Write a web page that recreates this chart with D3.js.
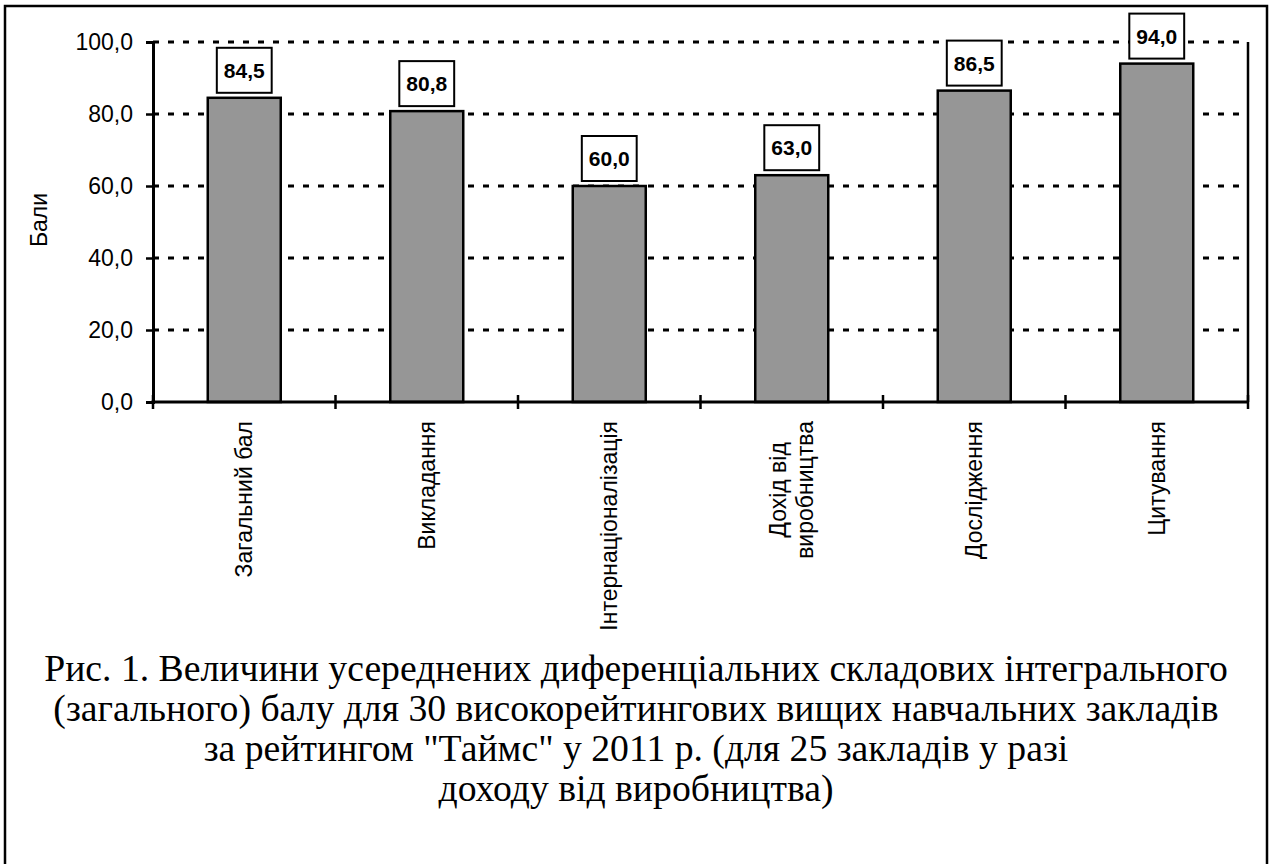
<!DOCTYPE html>
<html>
<head>
<meta charset="utf-8">
<script src="https://cdn.jsdelivr.net/npm/d3@7"></script>
<style>
  body { margin: 0; background: #fff; }
  svg { display: block; }
</style>
</head>
<body>
<script>
var width = 1269, height = 864;

var categories = ["Загальний бал", "Викладання", "Інтернаціоналізація", "Дохід від\nвиробництва", "Дослідження", "Цитування"];
var values = [84.5, 80.8, 60.0, 63.0, 86.5, 94.0];
var yTicks = [0, 20, 40, 60, 80, 100];
var yTitle = "Бали";
var caption = [
  "Рис. 1. Величини усереднених диференціальних складових інтегрального",
  "(загального) балу для 30 високорейтингових вищих навчальних закладів",
  "за рейтингом \"Таймс\" у 2011 р. (для 25 закладів у разі",
  "доходу від виробництва)"
];

var plot = { left: 153, right: 1248, top: 42, bottom: 402 };
var fmt = function(d) { return d3.format(".1f")(d).replace(".", ","); };

var svg = d3.select("body").append("svg")
  .attr("width", width)
  .attr("height", height);

// outer frame (bottom edge runs off the picture)
svg.append("rect")
  .attr("x", 5).attr("y", 6)
  .attr("width", 1262).attr("height", 900)
  .attr("fill", "none").attr("stroke", "#000").attr("stroke-width", 2.5);

var x = d3.scaleBand()
  .domain(categories)
  .range([plot.left, plot.right])
  .paddingInner(0.6)
  .paddingOuter(0.3);

var y = d3.scaleLinear()
  .domain([0, 100])
  .range([plot.bottom, plot.top]);

// grid
svg.append("g").selectAll("line")
  .data(yTicks.slice(1))
  .enter().append("line")
  .attr("x1", plot.left).attr("x2", plot.right)
  .attr("y1", function(d) { return y(d); })
  .attr("y2", function(d) { return y(d); })
  .attr("stroke", "#000")
  .attr("stroke-width", 3)
  .attr("stroke-dasharray", "6,9");

// right edge of plot area
svg.append("line")
  .attr("x1", plot.right).attr("x2", plot.right)
  .attr("y1", plot.top).attr("y2", plot.bottom)
  .attr("stroke", "#000").attr("stroke-width", 2.5);

// bars
svg.append("g").selectAll("rect")
  .data(values)
  .enter().append("rect")
  .attr("x", function(d, i) { return x(categories[i]); })
  .attr("y", function(d) { return y(d); })
  .attr("width", x.bandwidth())
  .attr("height", function(d) { return y(0) - y(d); })
  .attr("fill", "#969696")
  .attr("stroke", "#000")
  .attr("stroke-width", 2.5);

// y axis
var yAxis = svg.append("g")
  .attr("transform", "translate(" + plot.left + ",0)")
  .call(d3.axisLeft(y).tickValues(yTicks).tickFormat(fmt).tickSize(7).tickPadding(13));
yAxis.select(".domain").attr("stroke-width", 3);
yAxis.selectAll(".tick line").attr("stroke-width", 2.5);
yAxis.selectAll("text")
  .attr("font-family", "Liberation Sans, Arial, sans-serif")
  .attr("font-size", 23)
  .attr("fill", "#000");

// x axis line with ticks at category boundaries
svg.append("line")
  .attr("x1", plot.left - 1.5).attr("x2", plot.right)
  .attr("y1", plot.bottom).attr("y2", plot.bottom)
  .attr("stroke", "#000").attr("stroke-width", 3);

var bounds = categories.map(function(c) { return x(c) + x.bandwidth() / 2 - x.step() / 2; });
bounds.push(plot.right);
svg.append("g").selectAll("line")
  .data(bounds)
  .enter().append("line")
  .attr("x1", function(d) { return d; })
  .attr("x2", function(d) { return d; })
  .attr("y1", plot.bottom - 7).attr("y2", plot.bottom + 7)
  .attr("stroke", "#000").attr("stroke-width", 2.5);

// category labels, rotated, lines centred on each other
categories.forEach(function(c) {
  var lines = c.split("\n");
  var cx = x(c) + x.bandwidth() / 2;
  var lh = 27;
  var g = svg.append("g")
    .attr("transform", "translate(" + cx + "," + (plot.bottom + 19) + ") rotate(-90)");
  var texts = lines.map(function(l, i) {
    return g.append("text")
      .attr("x", 0)
      .attr("y", (i - (lines.length - 1) / 2) * lh)
      .attr("dy", "0.35em")
      .attr("text-anchor", "end")
      .attr("font-family", "Liberation Sans, Arial, sans-serif")
      .attr("font-size", 23)
      .text(l);
  });
  var lens = texts.map(function(t) { return t.node().getComputedTextLength(); });
  var maxLen = d3.max(lens);
  texts.forEach(function(t, i) { t.attr("x", -(maxLen - lens[i]) / 2); });
});

// y title
svg.append("text")
  .attr("transform", "translate(47,220) rotate(-90)")
  .attr("text-anchor", "middle")
  .attr("font-family", "Liberation Sans, Arial, sans-serif")
  .attr("font-size", 23)
  .text(yTitle);

// data labels in boxes
values.forEach(function(v, i) {
  var cx = x(categories[i]) + x.bandwidth() / 2;
  var by = y(v) - 5;
  var g = svg.append("g");
  var box = g.append("rect")
    .attr("fill", "#fff").attr("stroke", "#000").attr("stroke-width", 2);
  var t = g.append("text")
    .attr("x", cx)
    .attr("y", by - 22.5)
    .attr("dy", "0.36em")
    .attr("text-anchor", "middle")
    .attr("font-family", "Liberation Sans, Arial, sans-serif")
    .attr("font-weight", "bold")
    .attr("font-size", 21)
    .text(fmt(v));
  var w = t.node().getComputedTextLength() + 14;
  box.attr("x", cx - w / 2).attr("y", by - 45).attr("width", w).attr("height", 45);
});

// caption
var cap = svg.append("text")
  .attr("text-anchor", "middle")
  .attr("font-family", "Liberation Serif, Times New Roman, serif")
  .attr("font-size", 37.7);
caption.forEach(function(l, i) {
  cap.append("tspan")
    .attr("x", 636)
    .attr("y", 681 + i * 40)
    .text(l);
});
</script>
</body>
</html>
